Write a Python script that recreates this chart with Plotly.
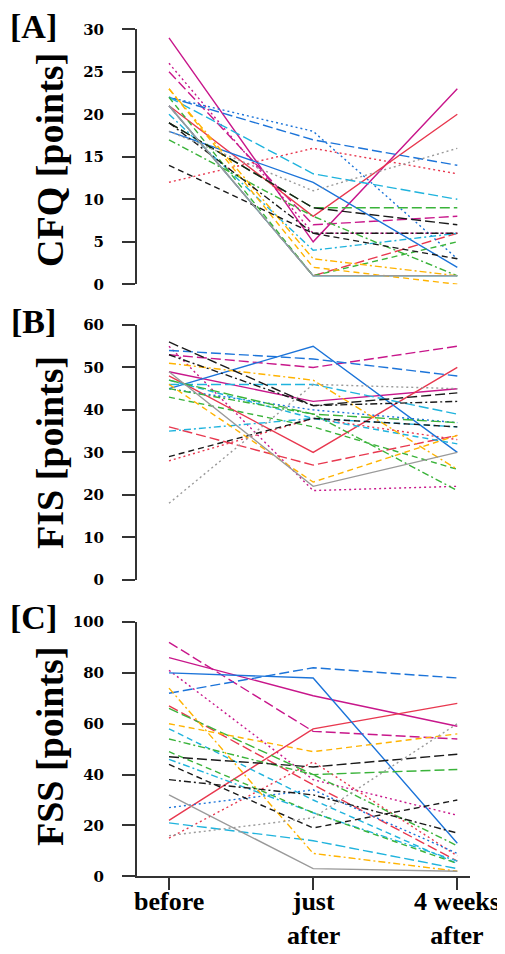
import plotly.graph_objects as go

# ---------------- data ----------------
timepoints = [0, 1, 2]
timepoint_labels = ["before", "just<br>after", "4 weeks<br>after"]

subject_colors = [
    "magenta", "magenta", "magenta",
    "red", "red", "red",
    "blue", "blue", "blue",
    "cyan", "cyan", "cyan",
    "green", "green", "green",
    "orange", "orange",
    "black", "black", "black",
    "gray", "gray",
]

cfq_values = [
    [29, 5, 23], [25, 7, 8], [26, 6, 6],
    [21, 8, 20], [21, 1, 6], [12, 16, 13],
    [18, 12, 2], [22, 17, 14], [22, 18, 3],
    [21, 1, 1], [22, 13, 10], [20, 4, 6],
    [19, 9, 9], [22, 1, 5], [17, 8, 1],
    [23, 2, 0], [23, 3, 1],
    [19, 9, 7], [19, 6, 6], [14, 6, 3],
    [21, 1, 1], [18, 11, 16],
]

fis_values = [
    [49, 42, 45], [53, 50, 55], [55, 21, 22],
    [48, 30, 50], [36, 27, 34], [28, 38, 33],
    [45, 55, 30], [54, 52, 48], [45, 40, 37],
    [47, 38, 32], [46, 46, 39], [35, 38, 36],
    [47, 39, 37], [43, 36, 26], [45, 39, 21],
    [46, 23, 34], [51, 47, 26],
    [56, 41, 44], [53, 41, 42], [29, 38, 36],
    [49, 22, 30], [18, 46, 45],
]

fss_values = [
    [86, 71, 59], [92, 57, 54], [81, 38, 24],
    [22, 58, 68], [67, 36, 6], [15, 45, 8],
    [80, 78, 13], [72, 82, 78], [27, 34, 9],
    [58, 30, 5], [21, 14, 3], [46, 25, 6],
    [66, 40, 42], [49, 25, 5], [54, 40, 12],
    [60, 49, 56], [74, 9, 2],
    [47, 43, 48], [38, 32, 17], [44, 19, 30],
    [32, 3, 2], [16, 23, 60],
]

cfq_ticks = [0, 5, 10, 15, 20, 25, 30]
fis_ticks = [0, 10, 20, 30, 40, 50, 60]
fss_ticks = [0, 20, 40, 60, 80, 100]

# ---------------- styles ----------------
palette = {
    "magenta": "#C8178B",
    "red": "#E8384F",
    "blue": "#1C74D9",
    "cyan": "#1FB3DD",
    "green": "#3AB33A",
    "orange": "#FFB300",
    "black": "#1a1a1a",
    "gray": "#9a9a9a",
}
dash_map = {
    "solid": "solid",
    "longdash": "10px,4px",
    "dash": "6px,4px",
    "dot": "2px,3px",
    "dashdot": "7px,3px,2px,3px",
}
base_dashes = [
    "solid", "longdash", "dot",
    "solid", "longdash", "dot",
    "solid", "longdash", "dot",
    "solid", "longdash", "dashdot",
    "longdash", "dash", "dashdot",
    "dash", "dashdot",
    "longdash", "dashdot", "dash",
    "solid", "dot",
]
dashes_A = list(base_dashes)
dashes_B = list(base_dashes); dashes_B[9] = "dash"
dashes_C = list(base_dashes); dashes_C[9] = "dash"

fig = go.Figure()

panels = [
    (cfq_values, dashes_A, "x", "y"),
    (fis_values, dashes_B, "x2", "y2"),
    (fss_values, dashes_C, "x3", "y3"),
]
for values, dashes, xa, ya in panels:
    for vals, cname, dname in zip(values, subject_colors, dashes):
        fig.add_trace(go.Scatter(
            x=timepoints, y=vals, mode="lines",
            line=dict(color=palette[cname], dash=dash_map[dname], width=1.4),
            xaxis=xa, yaxis=ya, showlegend=False, hoverinfo="skip",
        ))

# page body has an 8px default margin: place everything relative to it
OFF = 8.0
H = 954.0
L = 137.0 - OFF
W = 333.0

def dom(top_px, bottom_px):
    return [1 - (bottom_px - OFF) / H, 1 - (top_px - OFF) / H]

def ypaper(px):
    return 1 - (px - OFF) / H

def xpaper(px):
    return (px - OFF - L) / W

xrange_ = [-0.222, 2.088]
tickfont_y = dict(family="DejaVu Serif", size=15, color="black", weight="bold")
axis_common = dict(showline=True, linecolor="#333333", linewidth=2,
                   ticks="outside", ticklen=13, tickwidth=1.5, tickcolor="#333333",
                   showgrid=False, zeroline=False, tickfont=tickfont_y,
                   ticklabelstandoff=15, automargin=False)

fig.update_layout(
    width=505, height=954,
    margin=dict(l=L, r=505 - L - W, t=0, b=0, pad=0, autoexpand=False),
    paper_bgcolor="white", plot_bgcolor="white",
    xaxis=dict(domain=[0, 1], range=xrange_, visible=False, anchor="y", automargin=False),
    xaxis2=dict(domain=[0, 1], range=xrange_, visible=False, anchor="y2", automargin=False),
    xaxis3=dict(domain=[0, 1], range=xrange_, anchor="y3", automargin=False,
                showline=True, linecolor="#333333", linewidth=2,
                ticks="outside", ticklen=12, tickwidth=1.5, tickcolor="#333333",
                tickvals=timepoints, showticklabels=False,
                showgrid=False, zeroline=False),
    yaxis=dict(domain=dom(29.3, 284.3), range=[0, 30], tickvals=cfq_ticks, anchor="x", **axis_common),
    yaxis2=dict(domain=dom(325, 579.7), range=[0, 60], tickvals=fis_ticks, anchor="x2", **axis_common),
    yaxis3=dict(domain=dom(622, 876.3), range=[0, 100], tickvals=fss_ticks, anchor="x3", **axis_common),
)

# x tick labels as annotations (two-line labels)
xlab_font = dict(family="Liberation Serif", size=26, color="black", weight="bold")
for tv, tt in zip(timepoints, timepoint_labels):
    fig.add_annotation(text=tt, xref="x3", yref="paper", x=tv, y=ypaper(885),
                       xanchor="center", yanchor="top", showarrow=False,
                       font=xlab_font, align="center")

ann_font_big = dict(family="Liberation Serif", size=38, color="black", weight="bold")
ann_font_lbl = dict(family="Liberation Serif", size=34, color="black", weight="bold")
titles = [("CFQ [points]", 160), ("FIS [points]", 453), ("FSS [points]", 746)]
for text, ycen in titles:
    fig.add_annotation(text=text, xref="paper", yref="paper",
                       x=xpaper(50), y=ypaper(ycen), textangle=-90,
                       xanchor="center", yanchor="middle", showarrow=False,
                       font=ann_font_big)
labels = [("[A]", 27), ("[B]", 321), ("[C]", 617)]
for text, ycen in labels:
    fig.add_annotation(text=text, xref="paper", yref="paper",
                       x=xpaper(33), y=ypaper(ycen),
                       xanchor="center", yanchor="middle", showarrow=False,
                       font=ann_font_lbl)

fig.write_html("out.html")
